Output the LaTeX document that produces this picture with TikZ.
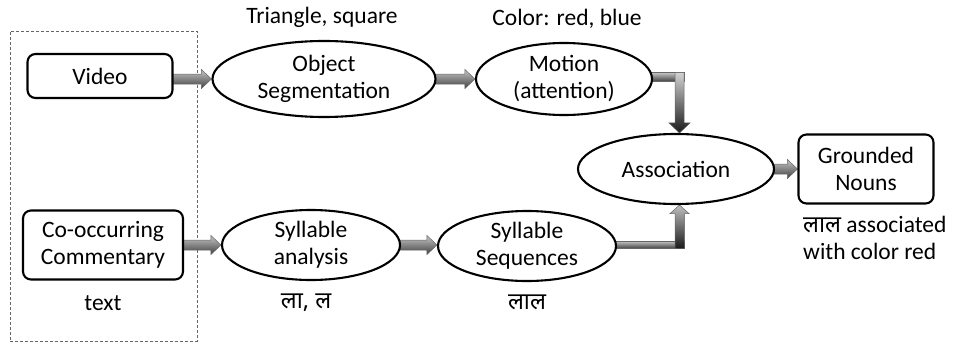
\documentclass[tikz,border=0pt]{standalone}
\usepackage{fontspec}
\setmainfont{Carlito}
\newfontfamily\devafont[Script=Devanagari]{Noto Sans}
\usetikzlibrary{shapes.geometric,calc,backgrounds}
\newcommand{\hblk}[3]{%
  \shade[harrowsty] let \p1=(#1), \p2=(#2), \p3=(#3) in
    (\x1-3pt,\y3+5pt) -- (\x2-10pt,\y3+5pt) -- (\x2-10pt,\y3+9.5pt) -- (\x2,\y3)
    -- (\x2-10pt,\y3-9.5pt) -- (\x2-10pt,\y3-5pt) -- (\x1-3pt,\y3-5pt) -- cycle;}
\begin{document}
\begin{tikzpicture}[x=1pt,y=-1pt,
  font=\fontsize{23.5}{27}\selectfont,
  ell/.style={ellipse, draw, line width=2.1pt, fill=white, inner sep=0pt, align=center},
  rbox/.style={rectangle, rounded corners=8pt, draw, line width=2.1pt, fill=white, inner sep=0pt, align=center},
  lbl/.style={inner sep=0pt, align=center},
  harrowsty/.style={top color=gray!45, bottom color=black!75, draw=black!60, line width=0.5pt},
  varrowsty/.style={top color=gray!35, bottom color=black!90, draw=black!60, line width=0.5pt},
  uarrowsty/.style={top color=gray!50, bottom color=black!90, draw=black!60, line width=0.5pt}]
\useasboundingbox (0,0) rectangle (956,348);

\node[rbox, minimum width=145pt, minimum height=44pt] (video) at (100,76) {Video};
\node[ell, minimum width=223pt, minimum height=76pt] (seg) at (324,79) {Object\\Segmentation};
\node[ell, minimum width=176pt, minimum height=72pt] (motion) at (564,79) {Motion\\(attention)};
\node[ell, minimum width=196pt, minimum height=70pt] (assoc) at (676,169) {Association};
\node[rbox, minimum width=135pt, minimum height=69pt] (nouns) at (866,169) {Grounded\\Nouns};
\node[rbox, minimum width=160pt, minimum height=69pt] (comm) at (103,245) {Co-occurring\\Commentary};
\node[ell, minimum width=178pt, minimum height=70pt] (syl) at (311,245) {Syllable\\analysis};
\node[ell, minimum width=178pt, minimum height=70pt] (seq) at (527,246) {Syllable\\Sequences};

\node[lbl] (tri) at (322,17) {Triangle, square};
\node[lbl] (col) at (567,19) {Color: red, blue};
\node[lbl] (txt) at (103,303) {text};
\node[lbl] (la) at (306,303) {\devafont ला, ल};
\node[lbl] (lal) at (527,302) {\devafont लाल};
\node[lbl, align=left, anchor=north west] (gn) at (803,216) {{\devafont लाल} associated\\with color red};

\begin{pgfonlayer}{background}
\node[draw=black!60, dashed, dash pattern=on 3pt off 2pt, line width=0.9pt,
      minimum width=187pt, minimum height=310pt, inner sep=0pt] (grp) at (103.5,186) {};
\hblk{video.east}{seg.west}{seg.west}
\hblk{seg.east}{motion.west}{seg.east}
\hblk{assoc.east}{nouns.west}{assoc.east}
\hblk{comm.east}{syl.west}{comm.east}
\hblk{syl.east}{seq.west}{syl.east}
% Motion -> Association (elbow)
\shade[harrowsty] let \p1=(motion.east), \p2=(assoc.north) in
  (\x1-3pt,\y1-2.5pt) rectangle (\x2+8pt,\y1+6.5pt);
\shade[varrowsty] let \p1=(motion.east), \p2=(assoc.north) in
  (\x2-1pt,\y1+6.5pt) -- (\x2+8pt,\y1+6.5pt) -- (\x2+8pt,\y2+10pt) -- (\x2+14pt,\y2+10pt)
  -- (\x2+3.5pt,\y2) -- (\x2-7pt,\y2+10pt) -- (\x2-1pt,\y2+10pt) -- cycle;
% Syllable Sequences -> Association (elbow)
\shade[harrowsty] let \p1=(seq.east), \p2=(assoc.south) in
  (\x1-3pt,\y1-2.5pt) rectangle (\x2+8.5pt,\y1+5pt);
\shade[uarrowsty] let \p1=(seq.east), \p2=(assoc.south) in
  (\x2-1pt,\y1-2.5pt) -- (\x2+8.5pt,\y1-2.5pt) -- (\x2+8.5pt,\y2-8.5pt) -- (\x2+13pt,\y2-8.5pt)
  -- (\x2+3.5pt,\y2) -- (\x2-6pt,\y2-8.5pt) -- (\x2-1pt,\y2-8.5pt) -- cycle;
\end{pgfonlayer}
\end{tikzpicture}
\end{document}
